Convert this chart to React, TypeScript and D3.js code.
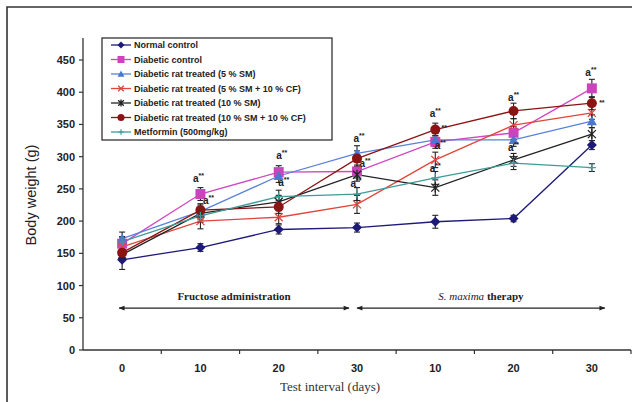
import React from "react";
import * as d3 from "d3";

const categories = ["0", "10", "20", "30", "10", "20", "30"];
const yTicks = [0, 50, 100, 150, 200, 250, 300, 350, 400, 450];

const seriesNames = [
  "Normal control",
  "Diabetic control",
  "Diabetic rat treated (5 % SM)",
  "Diabetic rat treated  (5 % SM + 10 % CF)",
  "Diabetic rat treated (10 % SM)",
  "Diabetic rat treated (10 % SM + 10 % CF)",
  "Metformin (500mg/kg)",
];
const normalControl = [140, 159, 187, 190, 199, 204, 318];
const diabeticControl = [165, 242, 276, 277, 323, 337, 406];
const sm5 = [173, 215, 270, 305, 326, 326, 355];
const sm5cf = [160, 200, 206, 226, 295, 349, 368];
const sm10 = [148, 212, 230, 272, 252, 295, 335];
const sm10cf = [151, 217, 222, 297, 342, 371, 383];
const metformin = [168, 208, 238, 242, 267, 290, 283];

const errNormal = [15, 6, 7, 7, 10, 5, 7];
const errDiabetic = [10, 10, 10, 10, 10, 10, 14];
const errSm5 = [10, 10, 10, 12, 10, 10, 10];
const errSm5cf = [10, 12, 10, 14, 12, 10, 10];
const errSm10 = [10, 10, 10, 10, 12, 10, 10];
const errSm10cf = [8, 10, 10, 12, 10, 12, 10];
const errMetformin = [8, 10, 10, 10, 10, 10, 6];

// annotation: category index, value level, horizontal offset (px), showA
const annCat = [1, 1, 2, 2, 3, 3, 3, 4, 4, 4, 4, 5, 5, 6, 6];
const annVal = [267, 233, 302, 261, 329, 290, 259, 368, 341, 318, 282, 393, 315, 431, 380];
const annDx = [-2, 8, 3, 5, 2, 8, -1, 0, 9, 5, 0, 0, 0, -1, 10];
const annA = [true, true, true, true, true, true, true, true, false, true, true, true, true, true, false];

const values = [normalControl, diabeticControl, sm5, sm5cf, sm10, sm10cf, metformin];
const errors = [errNormal, errDiabetic, errSm5, errSm5cf, errSm10, errSm10cf, errMetformin];
const lineColors = ["#1d1a78", "#d048c0", "#5a80d8", "#e0463c", "#222222", "#8a1414", "#3c9c98"];
const markerColors = ["#1d1a78", "#cc44bb", "#4a78d0", "#e0463c", "#222222", "#8a1414", "#3c9c98"];
const markerTypes = ["diamond", "square", "triangle", "x", "star", "circle", "plus"];

function Marker({ type, x, y, color, size = 1 }: { type: string; x: number; y: number; color: string; size?: number }) {
  const s = size;
  switch (type) {
    case "diamond":
      return <path d={`M${x},${y - 5 * s}L${x + 5 * s},${y}L${x},${y + 5 * s}L${x - 5 * s},${y}Z`} fill={color} />;
    case "square":
      return <rect x={x - 5 * s} y={y - 5 * s} width={10 * s} height={10 * s} fill={color} />;
    case "triangle":
      return <path d={`M${x},${y - 5 * s}L${x + 5 * s},${y + 4 * s}L${x - 5 * s},${y + 4 * s}Z`} fill={color} />;
    case "circle":
      return <circle cx={x} cy={y} r={5 * s} fill={color} />;
    case "x":
      return (
        <path d={`M${x - 4 * s},${y - 4 * s}L${x + 4 * s},${y + 4 * s}M${x - 4 * s},${y + 4 * s}L${x + 4 * s},${y - 4 * s}`} stroke={color} strokeWidth={1.3} />
      );
    case "star":
      return (
        <path
          d={`M${x - 4 * s},${y - 4 * s}L${x + 4 * s},${y + 4 * s}M${x - 4 * s},${y + 4 * s}L${x + 4 * s},${y - 4 * s}M${x},${y - 5 * s}L${x},${y + 5 * s}`}
          stroke={color}
          strokeWidth={1.3}
        />
      );
    case "plus":
      return <path d={`M${x - 4 * s},${y}L${x + 4 * s},${y}M${x},${y - 4 * s}L${x},${y + 4 * s}`} stroke={color} strokeWidth={1.2} />;
    default:
      return null;
  }
}

export default function App() {
  const W = 632;
  const H = 402;
  const x = d3.scaleBand<number>().domain(d3.range(categories.length)).range([83, 631]);
  const y = d3.scaleLinear().domain([0, 450]).range([350, 60]);
  const cx = (i: number) => (x(i) as number) + x.bandwidth() / 2;
  const line = d3
    .line<number>()
    .x((_, i) => cx(i))
    .y((d) => y(d));

  const arrowY = y(65);
  const leftArrowX1 = cx(0) - 3;
  const leftArrowX2 = cx(3) - 8;
  const rightArrowX1 = cx(3);
  const rightArrowX2 = cx(6) + 13;

  const legendX = 102;
  const legendY = 38;
  const legendRow = 14.5;

  const fontSans = "'Liberation Sans', Arial, sans-serif";
  const fontSerif = "'Liberation Serif', 'Times New Roman', serif";

  return (
    <svg width={W} height={H} style={{ position: "absolute", left: 0, top: 0, background: "#fff" }}>
      <rect x={0} y={0} width={W} height={H} fill="#fff" />
      {/* outer frame */}
      <path d={`M7,${H + 5}L7,7L${W + 5},7`} fill="none" stroke="#333" strokeWidth={1.6} />

      {/* y axis */}
      <line x1={83} x2={83} y1={38} y2={350} stroke="#333" strokeWidth={1.3} />
      {yTicks.map((t) => (
        <g key={t}>
          <line x1={79} x2={83} y1={y(t)} y2={y(t)} stroke="#333" strokeWidth={1.2} />
          <text x={75} y={y(t) + 4} textAnchor="end" fontFamily={fontSans} fontWeight="bold" fontSize={11} fill="#222">
            {t}
          </text>
        </g>
      ))}
      {/* x axis */}
      <line x1={83} x2={631} y1={350} y2={350} stroke="#333" strokeWidth={1.3} />
      {d3.range(1, categories.length + 1).map((i) => {
        const bx = 83 + i * x.bandwidth();
        return <line key={i} x1={bx} x2={bx} y1={350} y2={354} stroke="#333" strokeWidth={1.2} />;
      })}
      {categories.map((c, i) => (
        <text key={i} x={cx(i)} y={372} textAnchor="middle" fontFamily={fontSans} fontWeight="bold" fontSize={11} fill="#222">
          {c}
        </text>
      ))}

      <text x={330} y={391} textAnchor="middle" fontFamily={fontSerif} fontSize={13} fill="#333">
        Test interval (days)
      </text>
      <text
        transform={`translate(36,195) rotate(-90)`}
        textAnchor="middle"
        fontFamily={fontSans}
        fontSize={14.5}
        fill="#222"
      >
        Body weight (g)
      </text>

      {/* arrows */}
      <defs>
        <marker id="ah" viewBox="0 0 10 10" refX={9} refY={5} markerWidth={8} markerHeight={6} orient="auto-start-reverse" markerUnits="userSpaceOnUse">
          <path d="M0,1L10,5L0,9Z" fill="#222" />
        </marker>
      </defs>
      <line x1={leftArrowX1} x2={leftArrowX2} y1={arrowY} y2={arrowY} stroke="#222" strokeWidth={1.4} markerStart="url(#ah)" markerEnd="url(#ah)" />
      <line x1={rightArrowX1} x2={rightArrowX2} y1={arrowY} y2={arrowY} stroke="#222" strokeWidth={1.4} markerStart="url(#ah)" markerEnd="url(#ah)" />
      <text x={(leftArrowX1 + leftArrowX2) / 2} y={arrowY - 8} textAnchor="middle" fontFamily={fontSerif} fontWeight="bold" fontSize={11} fill="#222">
        Fructose administration
      </text>
      <text x={(rightArrowX1 + rightArrowX2) / 2} y={arrowY - 8} textAnchor="middle" fontFamily={fontSerif} fontSize={11} fill="#222">
        <tspan fontStyle="italic">S. maxima</tspan>
        <tspan fontWeight="bold"> therapy</tspan>
      </text>

      {/* series lines */}
      {values.map((vals, si) => (
        <path key={si} d={line(vals) || ""} fill="none" stroke={lineColors[si]} strokeWidth={1.3} />
      ))}
      {/* error bars */}
      {values.map((vals, si) =>
        vals.map((v, i) => {
          const e = errors[si][i];
          const px = cx(i);
          return (
            <g key={`e${si}-${i}`} stroke="#222" strokeWidth={1.1}>
              <line x1={px} x2={px} y1={y(v - e)} y2={y(v + e)} />
              <line x1={px - 3} x2={px + 3} y1={y(v + e)} y2={y(v + e)} />
              <line x1={px - 3} x2={px + 3} y1={y(v - e)} y2={y(v - e)} />
            </g>
          );
        })
      )}
      {/* markers */}
      {values.map((vals, si) =>
        vals.map((v, i) => <Marker key={`m${si}-${i}`} type={markerTypes[si]} x={cx(i)} y={y(v)} color={markerColors[si]} />)
      )}

      {/* significance annotations */}
      {annCat.map((c, k) => (
        <text key={`a${k}`} x={cx(c) + annDx[k]} y={y(annVal[k]) + 4} textAnchor="middle" fontFamily={fontSans} fontWeight="bold" fontSize={10} fill="#222">
          {annA[k] ? "a" : ""}
          <tspan dy={-4} fontSize={7}>**</tspan>
        </text>
      ))}

      {/* legend */}
      <rect x={legendX} y={legendY} width={230} height={102} fill="#fff" stroke="#222" strokeWidth={1.2} />
      {seriesNames.map((n, i) => {
        const ly = legendY + 7 + i * legendRow;
        return (
          <g key={n}>
            <line x1={legendX + 9} x2={legendX + 29} y1={ly} y2={ly} stroke={lineColors[i]} strokeWidth={1.3} />
            <Marker type={markerTypes[i]} x={legendX + 19} y={ly} color={markerColors[i]} size={0.7} />
            <text x={legendX + 32} y={ly + 3.3} fontFamily={fontSans} fontWeight="bold" fontSize={9} fill="#222">
              {n}
            </text>
          </g>
        );
      })}
    </svg>
  );
}
